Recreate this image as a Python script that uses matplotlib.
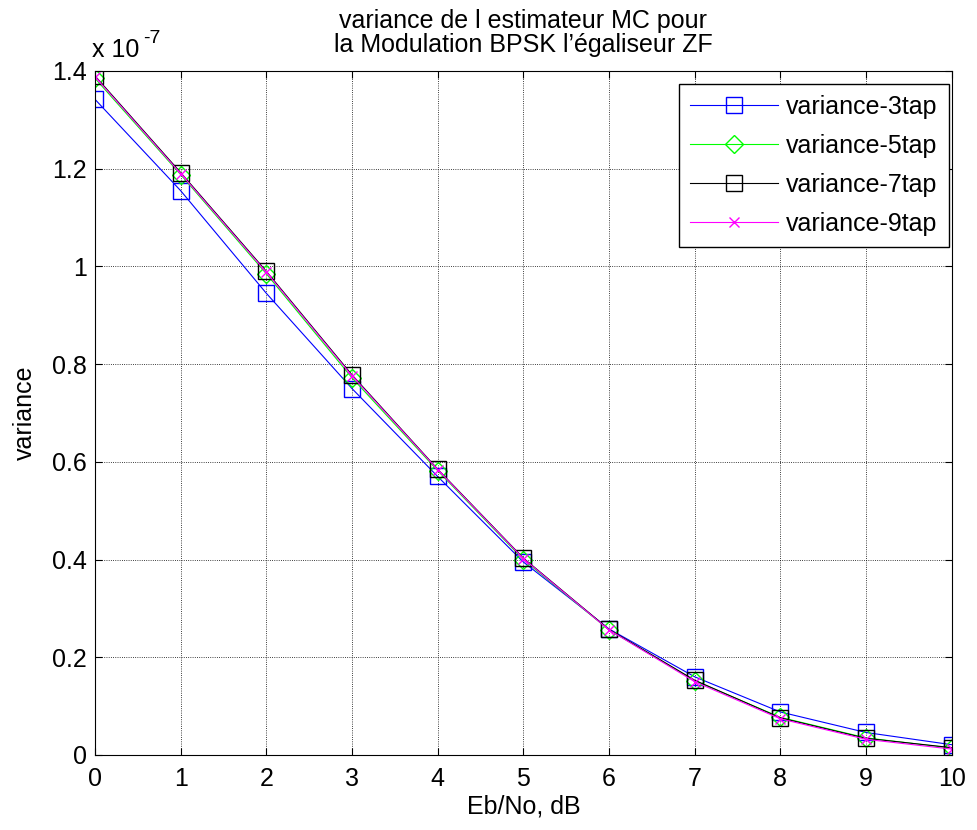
import matplotlib.pyplot as plt
from matplotlib.ticker import FuncFormatter

plt.rcParams['font.family'] = ['Liberation Sans', 'DejaVu Sans']

# Eb/No in dB
ebno = [0, 1, 2, 3, 4, 5, 6, 7, 8, 9, 10]

# variance values (x 1e-7)
var3 = [1.342, 1.155, 0.945, 0.750, 0.570, 0.395, 0.258, 0.160, 0.088, 0.046, 0.021]
var5 = [1.385, 1.188, 0.985, 0.772, 0.582, 0.400, 0.256, 0.152, 0.077, 0.035, 0.014]
var7 = [1.390, 1.192, 0.990, 0.778, 0.585, 0.403, 0.257, 0.153, 0.076, 0.034, 0.015]
var9 = [1.388, 1.190, 0.988, 0.776, 0.584, 0.402, 0.256, 0.150, 0.074, 0.032, 0.012]

scale = 1e-7

fig = plt.figure(figsize=(9.78, 8.30), dpi=100)
ax = fig.add_axes([0.0971, 0.0904, 0.876, 0.8241])

ax.plot(ebno, [v * scale for v in var3], color='#0000ff', lw=0.8, marker='s',
        ms=11.5, mfc='none', mec='#0000ff', label='variance-3tap')
ax.plot(ebno, [v * scale for v in var5], color='#00ff00', lw=0.8, marker='D',
        ms=9, mfc='none', mec='#00ff00', label='variance-5tap')
ax.plot(ebno, [v * scale for v in var7], color='black', lw=0.8, marker='s',
        ms=11.5, mfc='none', mec='black', label='variance-7tap')
ax.plot(ebno, [v * scale for v in var9], color='#ff00ff', lw=0.8, marker='x',
        ms=7, mec='#ff00ff', label='variance-9tap')

ax.set_xlim(0, 10)
ax.set_ylim(0, 1.4 * scale)
ax.set_xticks(range(0, 11))
ax.set_yticks([i * 0.2 * scale for i in range(8)])
ax.yaxis.set_major_formatter(FuncFormatter(lambda v, p: '%g' % round(v / scale, 2)))
ax.tick_params(direction='in', labelsize=18, top=True, right=True, length=5)
ax.tick_params(axis='x', pad=9)
ax.tick_params(axis='y', pad=6)
ax.grid(True, color='black', linestyle=':', linewidth=0.6)
for s in ax.spines.values():
    s.set_linewidth(0.8)

# exponent label like MATLAB
ax.text(-0.003, 1.0 + 14 / 684, 'x 10', transform=ax.transAxes, fontsize=18,
        ha='left', va='baseline')
ax.text(0.056, 1.0 + 28 / 684, '-7', transform=ax.transAxes, fontsize=14,
        ha='left', va='baseline')

ax.set_xlabel('Eb/No, dB', fontsize=18)
ax.xaxis.set_label_coords(0.5, -0.058)
ax.set_ylabel('variance', fontsize=18)
ax.yaxis.set_label_coords(-0.068, 0.5)
ax.set_title('variance de l estimateur MC pour\nla Modulation BPSK l\u2019\u00e9galiseur ZF',
             fontsize=18, pad=14, linespacing=1.0)

leg = ax.legend(loc='upper right', bbox_to_anchor=(0.9965, 0.981), borderaxespad=0,
                fontsize=18, fancybox=False, framealpha=1, edgecolor='black',
                handlelength=3.5, handletextpad=0.32, borderpad=0.45,
                labelspacing=0.6)
leg.get_frame().set_linewidth(1.0)

fig.savefig('out.png', dpi=100)
